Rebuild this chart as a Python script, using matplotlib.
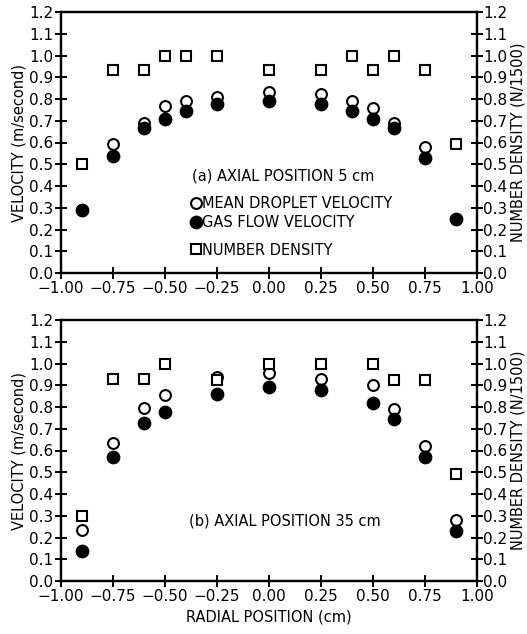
import matplotlib
matplotlib.use("Agg")
import matplotlib.pyplot as plt
from matplotlib.lines import Line2D

plt.rcParams['font.family'] = ['DejaVu Sans']
plt.rcParams['axes.unicode_minus'] = True

# ---- data ----
x_a = [-0.9, -0.75, -0.6, -0.5, -0.4, -0.25, 0.0, 0.25, 0.4, 0.5, 0.6, 0.75, 0.9]
droplet_a = [0.29, 0.592, 0.69, 0.77, 0.79, 0.81, 0.83, 0.823, 0.79, 0.76, 0.69, 0.58, 0.25]
gas_a = [0.288, 0.54, 0.665, 0.71, 0.745, 0.777, 0.79, 0.777, 0.745, 0.71, 0.665, 0.53, 0.246]
density_a = [0.5, 0.935, 0.935, 1.0, 1.0, 1.0, 0.935, 0.935, 1.0, 0.935, 1.0, 0.935, 0.595]

x_b = [-0.9, -0.75, -0.6, -0.5, -0.25, 0.0, 0.25, 0.5, 0.6, 0.75, 0.9]
droplet_b = [0.236, 0.636, 0.796, 0.854, 0.937, 0.956, 0.928, 0.90, 0.79, 0.62, 0.282]
gas_b = [0.14, 0.572, 0.727, 0.776, 0.861, 0.89, 0.878, 0.82, 0.745, 0.572, 0.232]
density_b = [0.30, 0.928, 0.928, 1.0, 0.925, 1.0, 1.0, 1.0, 0.925, 0.925, 0.494]

xticks = [-1.0, -0.75, -0.5, -0.25, 0.0, 0.25, 0.5, 0.75, 1.0]
xticklabels = ['−1.00', '−0.75', '−0.50', '−0.25', '0.00', '0.25', '0.50', '0.75', '1.00']
yticks = [0.0, 0.1, 0.2, 0.3, 0.4, 0.5, 0.6, 0.7, 0.8, 0.9, 1.0, 1.1, 1.2]
yticklabels = ['%.1f' % v for v in yticks]

panel_titles = ['(a) AXIAL POSITION 5 cm', '(b) AXIAL POSITION 35 cm']
legend_labels = ['MEAN DROPLET VELOCITY', 'GAS FLOW VELOCITY', 'NUMBER DENSITY']

FS = 10.5
TFS = 11
W, H = 527, 634
fig = plt.figure(figsize=(W / 100, H / 100), dpi=100)

left = 61 / W
width = (477 - 61) / W
axes_px = [(12, 273), (320, 581)]

ms_c = 7.8
ms_s = 7.6
mew = 1.5

for i, (top, bot) in enumerate(axes_px):
    ax = fig.add_axes([left, 1 - bot / H, width, (bot - top) / H])
    ax2 = ax.twinx()
    if i == 0:
        xs, dro, gas, den = x_a, droplet_a, gas_a, density_a
    else:
        xs, dro, gas, den = x_b, droplet_b, gas_b, density_b
    ax.plot(xs, dro, 'o', ms=ms_c, mfc='white', mec='black', mew=mew, zorder=3)
    ax.plot(xs, gas, 'o', ms=ms_c + 0.6, mfc='black', mec='black', mew=mew, zorder=4)
    ax2.plot(xs, den, 's', ms=ms_s, mfc='white', mec='black', mew=mew, zorder=2)

    for a in (ax, ax2):
        a.set_xlim(-1.0, 1.0)
        a.set_ylim(0.0, 1.2)
        for s in a.spines.values():
            s.set_linewidth(1.6)
    ax.set_xticks(xticks)
    ax.set_xticklabels(xticklabels, fontsize=TFS)
    ax.set_yticks(yticks)
    ax.set_yticklabels(yticklabels, fontsize=TFS)
    ax2.set_yticks(yticks)
    ax2.set_yticklabels(yticklabels, fontsize=TFS)
    ax.tick_params(axis='both', direction='inout', length=9, width=1.4, pad=1, colors='black')
    ax2.tick_params(axis='y', direction='inout', length=9, width=1.4, pad=0)
    ax.set_ylabel('VELOCITY (m/second)', fontsize=FS, labelpad=2)
    ax2.set_ylabel('NUMBER DENSITY (N/1500)', fontsize=FS, rotation=90, labelpad=2)

    if i == 0:
        ax.text(-0.372, 0.446, panel_titles[0], fontsize=FS, va='center', ha='left')
        h1 = Line2D([], [], marker='o', ls='none', ms=ms_c, mfc='white', mec='black', mew=mew)
        h2 = Line2D([], [], marker='o', ls='none', ms=ms_c + 0.6, mfc='black', mec='black', mew=mew)
        h3 = Line2D([], [], marker='s', ls='none', ms=ms_s, mfc='white', mec='black', mew=mew)
        leg1 = ax.legend([h1, h2], legend_labels[:2], loc='center left',
                         bbox_to_anchor=(0.312, 0.23), frameon=False, fontsize=FS,
                         handlelength=0.7, handletextpad=0.1, labelspacing=0.25,
                         borderpad=0, borderaxespad=0)
        ax.add_artist(leg1)
        ax.legend([h3], legend_labels[2:], loc='center left',
                  bbox_to_anchor=(0.312, 0.088), frameon=False, fontsize=FS,
                  handlelength=0.7, handletextpad=0.1, borderpad=0, borderaxespad=0)
    else:
        ax.text(-0.385, 0.277, panel_titles[1], fontsize=FS, va='center', ha='left')
        ax.set_xlabel('RADIAL POSITION (cm)', fontsize=FS, labelpad=4)

fig.savefig('out.png', dpi=100)
